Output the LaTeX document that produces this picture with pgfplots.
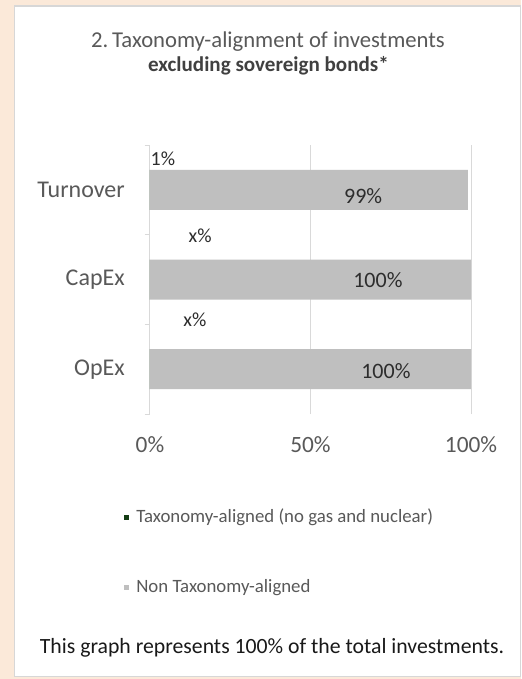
\documentclass[border=0pt]{standalone}
\usepackage{pgfplots}
\pgfplotsset{compat=1.18}
\usepackage{fontspec}
\setmainfont{Carlito}
\definecolor{peach}{RGB}{251,233,217}
\definecolor{panelline}{RGB}{215,215,215}
\definecolor{txtgray}{RGB}{89,89,89}
\definecolor{txtdark}{RGB}{64,64,64}
\definecolor{lbl}{RGB}{45,45,45}
\definecolor{barg}{RGB}{191,191,191}
\definecolor{gridc}{RGB}{217,217,217}
\definecolor{taxgreen}{RGB}{20,60,20}
\begin{document}
\begin{tikzpicture}[x=0.75pt,y=0.75pt]
\fill[peach] (0,0) rectangle (521,679);
\fill[white] (14,2) rectangle (520,673);
\draw[panelline, line width=0.75pt] (14,2) rectangle (520,673);
\draw[panelline, line width=2pt] (14,673) -- (520,673);
\node[anchor=base, text=txtgray, font=\fontsize{17}{18}\selectfont] at (268,631) {2.\,Taxonomy-alignment of investments};
\node[anchor=base, text=txtdark, font=\fontsize{15.8}{18}\selectfont\bfseries] at (268.5,607) {excluding sovereign bonds*};
\begin{axis}[
  at={(112.5pt,198.75pt)}, anchor=south west,
  scale only axis, width=240.75pt, height=201.75pt,
  xbar, bar width=30pt,
  xmin=0, xmax=100, ymin=-0.5, ymax=2.5,
  axis lines*=left,
  x axis line style={draw=none},
  y axis line style={gridc, line width=0.75pt},
  xtick={0,50,100}, xticklabels={0\%,50\%,100\%},
  ytick={0,1,2}, yticklabels={OpEx,CapEx,Turnover},
  minor ytick={-0.5,0.5,1.5,2.5},
  major tick length=0pt, minor tick length=4pt,
  tick align=outside,
  minor y tick style={gridc, line width=0.75pt},
  xmajorgrids, major grid style={gridc, line width=0.75pt},
  xticklabel style={text=txtgray, font=\fontsize{17.5}{20}\selectfont, inner sep=0pt, yshift=-17pt},
  yticklabel style={text=txtgray, font=\fontsize{18}{20}\selectfont, inner sep=0pt, xshift=-18.75pt},
  legend style={draw=none, fill=none, at={(-0.0934,-0.338)}, anchor=north west,
    font=\fontsize{14.1}{15}\selectfont, text=txtgray, row sep=39pt,
    nodes={inner sep=1pt},
    /tikz/every odd column/.append style={column sep=4.25pt}},
  legend cell align=left,
]
\addplot[fill=taxgreen, draw=none, bar shift=0pt,
  legend image code/.code={\fill[taxgreen] (0pt,-1.9pt) rectangle (3.8pt,1.9pt);}]
  coordinates {(0,2) (0,1) (0,0)};
\addlegendentry{Taxonomy-aligned (no gas and nuclear)}
\addplot[fill=barg, draw=none, bar shift=0pt,
  legend image code/.code={\fill[barg] (0pt,-1.9pt) rectangle (3.8pt,1.9pt);}]
  coordinates {(99,2) (100,1) (100,0)};
\addlegendentry{Non Taxonomy-aligned}
\node[text=lbl, font=\fontsize{16.5}{18}\selectfont] at (axis cs:66.4,1.931) {99\%};
\node[text=lbl, font=\fontsize{16.5}{18}\selectfont] at (axis cs:71.0,0.995) {100\%};
\node[text=lbl, font=\fontsize{16.5}{18}\selectfont] at (axis cs:73.5,-0.026) {100\%};
\node[text=lbl, font=\fontsize{15}{18}\selectfont] at (axis cs:4.0,2.344) {1\%};
\node[text=lbl, font=\fontsize{15}{18}\selectfont] at (axis cs:15.6,1.485) {x\%};
\node[text=lbl, font=\fontsize{15}{18}\selectfont] at (axis cs:14.0,0.548) {x\%};
\end{axis}
\node[anchor=base, text=black!90, font=\fontsize{16.3}{20}\selectfont] at (272,26) {This graph represents 100\% of the total investments.};
\end{tikzpicture}
\end{document}
